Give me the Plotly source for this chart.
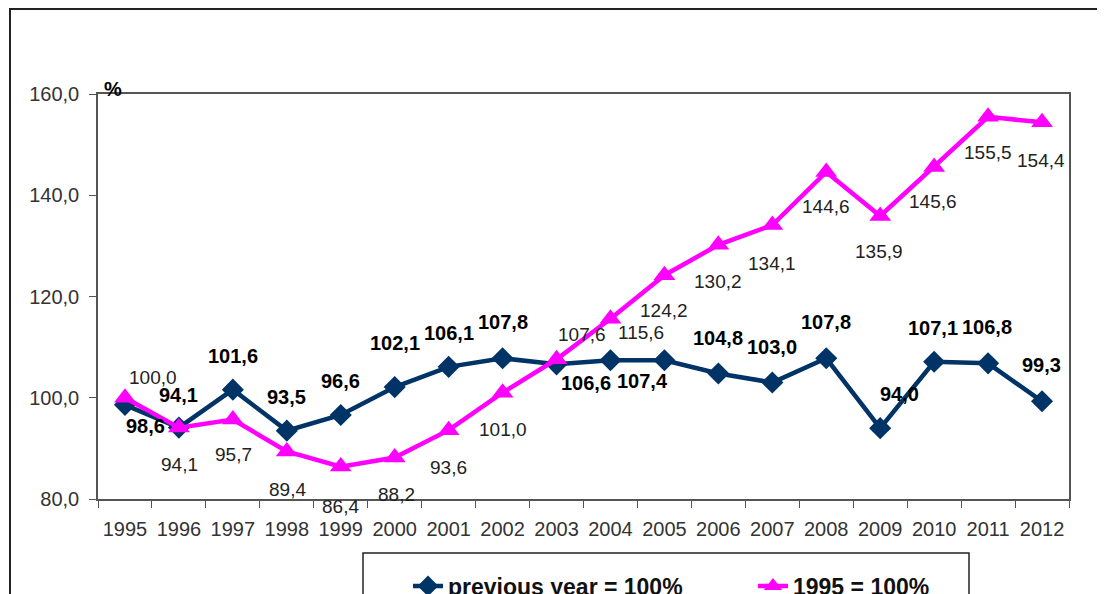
import plotly.graph_objects as go

years = [str(y) for y in range(1995, 2013)]
prev_year = [98.6, 94.1, 101.6, 93.5, 96.6, 102.1, 106.1, 107.8, 106.6, 107.4,
             107.4, 104.8, 103.0, 107.8, 94.0, 107.1, 106.8, 99.3]
base_1995 = [100.0, 94.1, 95.7, 89.4, 86.4, 88.2, 93.6, 101.0, 107.6, 115.6,
             124.2, 130.2, 134.1, 144.6, 135.9, 145.6, 155.5, 154.4]
y_ticks = [80, 100, 120, 140, 160]

# label offsets in pixels (dx right, dy down); None = label not shown
prev_offsets = [(21, 21), (0, -33), (0, -34), (0, -34), (0, -34), (0, -44),
                (0, -34), (0, -36), (29, 19), (32, 21), None, (0, -35),
                (0, -36), (0, -36), (19, -34), (-1, -34), (-1, -36), (-1, -36)]
base_offsets = [(28, -20), (1, 37), (1, 35), (1, 38), (0, 40), (2, 37),
                (0, 37), (0, 37), (25, -25), (31, 14), (0, 35), (0, 37),
                (0, 38), (0, 35), (-1, 35), (-1, 35), (0, 36), (-1, 38)]

NAVY = "#003366"
MAGENTA = "#FF00FF"
FONT = "Liberation Sans, Arial, sans-serif"

# figure geometry (page has an 8px body margin)
W, H = 1097, 586
ML, MR, MT, MB = 90, 36, 86, 95
PW, PH = W - ML - MR, H - MT - MB


def px_to_paper_x(px):
    return (px - 8 - ML) / PW


def px_to_paper_y(py):
    return (H - MB - (py - 8)) / PH


fig = go.Figure()
fig.add_trace(go.Scatter(
    x=years, y=prev_year, name="previous year = 100%", mode="lines+markers",
    line=dict(color=NAVY, width=4.5),
    marker=dict(symbol="diamond", size=17, color=NAVY),
))
fig.add_trace(go.Scatter(
    x=years, y=base_1995, name="1995 = 100%", mode="lines+markers",
    line=dict(color=MAGENTA, width=4.5),
    marker=dict(symbol="triangle-up", size=19, color=MAGENTA),
))


def fmt(v):
    return f"{v:.1f}".replace(".", ",")


annotations = []
for i, (v, off) in enumerate(zip(prev_year, prev_offsets)):
    if off is None:
        continue
    annotations.append(dict(
        x=i, y=v, xref="x", yref="y", text=f"<b>{fmt(v)}</b>", showarrow=False,
        xshift=off[0], yshift=-off[1], xanchor="center", yanchor="middle",
        font=dict(family=FONT, size=20, color="#000000"),
    ))
for i, (v, off) in enumerate(zip(base_1995, base_offsets)):
    if off is None:
        continue
    annotations.append(dict(
        x=i, y=v, xref="x", yref="y", text=fmt(v), showarrow=False,
        xshift=off[0], yshift=-off[1], xanchor="center", yanchor="middle",
        font=dict(family=FONT, size=19, color="#222222"),
    ))
annotations.append(dict(
    x=px_to_paper_x(113), y=px_to_paper_y(89), xref="paper", yref="paper",
    text="<b>%</b>", showarrow=False, xanchor="center", yanchor="middle",
    font=dict(family=FONT, size=20, color="#000000"),
))

shapes = [
    # outer chart frame
    dict(type="rect", xref="paper", yref="paper",
         x0=px_to_paper_x(10), x1=px_to_paper_x(1120),
         y0=px_to_paper_y(620), y1=px_to_paper_y(9),
         line=dict(color="#222222", width=2)),
    # legend box
    dict(type="rect", xref="paper", yref="paper",
         x0=px_to_paper_x(363), x1=px_to_paper_x(969),
         y0=px_to_paper_y(620), y1=px_to_paper_y(553),
         line=dict(color="#222222", width=1.5)),
]

fig.update_layout(
    width=W, height=H,
    margin=dict(l=ML, r=MR, t=MT, b=MB),
    paper_bgcolor="white", plot_bgcolor="white",
    separators=", ",
    font=dict(family=FONT, size=20, color="#333333"),
    showlegend=True,
    legend=dict(orientation="h", xref="container", yref="container",
                x=(408 - 8) / W, xanchor="left",
                y=1 - (586 - 8) / H, yanchor="middle",
                font=dict(family=FONT, size=23, color="#111111", weight="bold"),
                entrywidth=300, entrywidthmode="pixels",
                bgcolor="rgba(0,0,0,0)"),
    annotations=annotations,
    shapes=shapes,
)
fig.update_xaxes(
    type="category", range=[-0.5, len(years) - 0.5], tickson="boundaries",
    ticks="outside", ticklen=7, tickangle=0,
    tickcolor="#555555", showline=True, linecolor="#555555", linewidth=1.5,
    mirror=True, showgrid=False, ticklabelstandoff=11,
    tickfont=dict(family=FONT, size=20, color="#333333"),
)
fig.update_yaxes(
    range=[80, 160], tickvals=y_ticks, tickformat=".1f", ticks="outside", ticklen=7,
    tickcolor="#555555", showline=True, linecolor="#555555", linewidth=1.5,
    mirror=True, showgrid=False, zeroline=False, ticklabelstandoff=6,
    tickfont=dict(family=FONT, size=20, color="#333333"),
)

fig.write_html("out.html")
